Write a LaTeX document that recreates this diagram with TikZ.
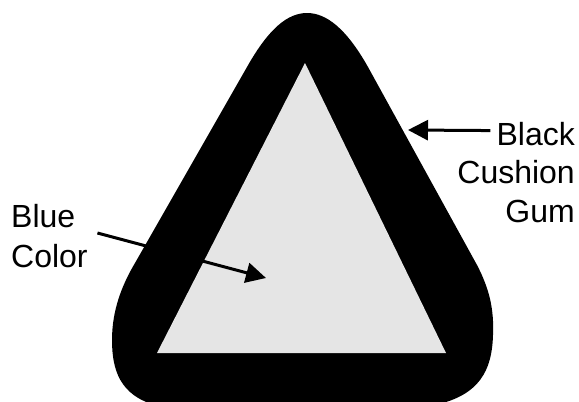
\documentclass[tikz,border=0pt]{standalone}
\usepackage{fontspec}
\setmainfont{Liberation Sans}
\usetikzlibrary{arrows.meta}

\begin{document}
\begin{tikzpicture}[
  x=1pt,y=-1pt,
  gum/.style={fill=black},
  face/.style={fill=black!10},
  lbl/.style={inner sep=0pt,font=\fontsize{32}{39}\selectfont},
  arr/.style={-{Triangle[length=20pt,width=20pt]},line width=3pt}
]
\useasboundingbox (0,0) rectangle (579,402);
\clip (0,0) rectangle (579,402);
% cushion gum ring
\path[gum] (135,263) -- (247,67)
  .. controls (269,28) and (288,13) .. (307,13)
  .. controls (326,13) and (346,28) .. (368,67)
  -- (477,265)
  .. controls (490,290) and (494,310) .. (493,335)
  .. controls (492,370) and (480,395) .. (435,405)
  -- (155,405)
  .. controls (120,395) and (112,370) .. (112,340)
  .. controls (112,310) and (122,285) .. (135,263) -- cycle;
% inner triangle
\path[face] (305,63) -- (446,353) -- (157,353) -- cycle;
\coordinate (edge) at (408,130);
\coordinate (inside) at (266,278);
% labels
\node[lbl,anchor=base east] (black) at (575,145) {Black};
\node[lbl,anchor=base east] (cushion) at (575,183) {Cushion};
\node[lbl,anchor=base east] (gumtext) at (575,222) {Gum};
\node[lbl,anchor=base west] (blue) at (11,227) {Blue};
\node[lbl,anchor=base west] (color) at (11,267) {Color};
\draw[arr] ([xshift=-6pt,yshift=3pt]black.west) -- (edge);
\draw[arr] ([xshift=22pt,yshift=-6pt]blue.base east) -- (inside);
\end{tikzpicture}
\end{document}
